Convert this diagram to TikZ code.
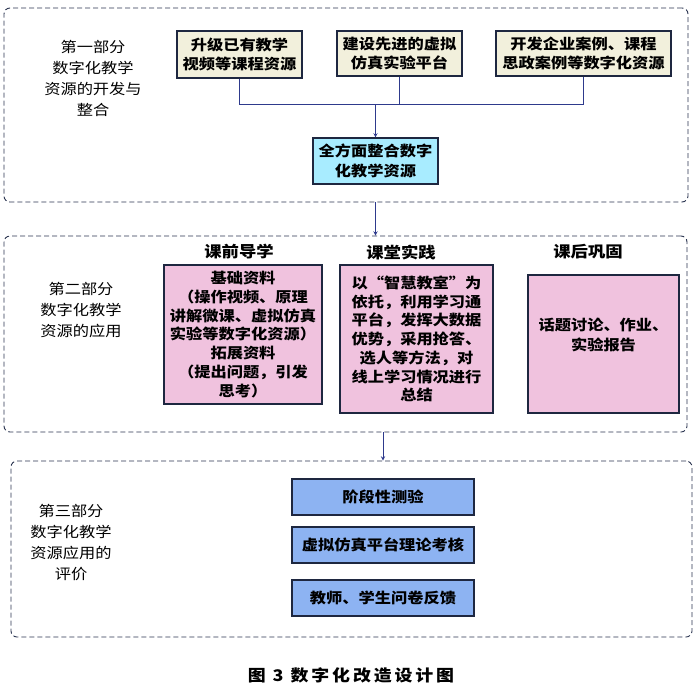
\documentclass[tikz,border=0pt]{standalone}
\usepackage{fontspec}
\setmainfont{Noto Sans CJK SC}[FakeStretch=1.12]
\usepackage{tikz}
\usepackage{xcolor}

\definecolor{partline}{HTML}{2A3450}
\definecolor{boxline}{HTML}{1E2740}
\definecolor{linkline}{HTML}{2E3A8C}
\definecolor{cream}{HTML}{F2F0DC}
\definecolor{skyfill}{HTML}{A8ECFF}
\definecolor{pinkfill}{HTML}{F0C2DE}
\definecolor{bluefill}{HTML}{8DB3F2}

\begin{document}
\begin{tikzpicture}[x=1pt, y=1pt,
          part/.style={draw=partline, line width=0.9pt, dash pattern=on 5pt off 3pt, rounded corners=6pt},
          box/.style={draw=boxline, line width=1.1pt, align=center, inner sep=0pt,
            font=\fontsize{14.5}{19.5}\selectfont\bfseries},
          heading/.style={align=center, font=\fontsize{15.5}{19}\selectfont\bfseries},
          sidetext/.style={align=center, font=\fontsize{14.5}{21}\selectfont},
          link/.style={draw=linkline, line width=0.9pt},
        ]
          \useasboundingbox (0,0) rectangle (696,-686);

          % dashed frames of the three parts
          \node[part, minimum width=684, minimum height=194] (part1) at (346,-105) {};
          \node[part, minimum width=683, minimum height=196] (part2) at (345.5,-334) {};
          \node[part, minimum width=681, minimum height=176] (part3) at (351.5,-549) {};

          % part one
          \node[sidetext] (side1) at (93,-78) {第一部分\\数字化教学\\资源的开发与\\整合};
          \node[box, fill=cream, minimum width=125, minimum height=47] (video) at (239.5,-54.5) {升级已有教学\\视频等课程资源};
          \node[box, fill=cream, minimum width=125, minimum height=45] (sim) at (399.5,-53.5) {建设先进的虚拟\\仿真实验平台};
          \node[box, fill=cream, minimum width=175, minimum height=45] (cases) at (583.5,-53.5) {开发企业案例、课程\\思政案例等数字化资源};
          \node[box, fill=skyfill, minimum width=125, minimum height=46] (merge) at (375.5,-161) {全方面整合数字\\化教学资源};
          \coordinate (join) at (375.5,-104);

          \draw[link] (video.south) |- (join);
          \draw[link] (cases.south) |- (join);
          \draw[link] (sim.south) -- (sim.south |- join);
          \draw[link, -stealth] (join) -- (merge.north);

          % part two
          \node[sidetext] (side2) at (81,-310) {第二部分\\数字化教学\\资源的应用};
          \node[heading] (pre) at (239,-252) {课前导学};
          \node[heading] (inclass) at (401,-252) {课堂实践};
          \node[heading] (post) at (588,-252) {课后巩固};
          \node[box, fill=pinkfill, minimum width=158, minimum height=139,
            font=\fontsize{14.5}{18.7}\selectfont\bfseries] (prebox) at (243,-334.5)
            {基础资料\\（操作视频、原理\\讲解微课、虚拟仿真\\实验等数字化资源）\\拓展资料\\（提出问题，引发\\思考）};
          \node[box, fill=pinkfill, minimum width=153, minimum height=148,
            font=\fontsize{14.5}{18.7}\selectfont\bfseries] (inbox) at (416.5,-339)
            {以“智慧教室”为\\依托，利用学习通\\平台，发挥大数据\\优势，采用抢答、\\选人等方法，对\\线上学习情况进行\\总结};
          \node[box, fill=pinkfill, minimum width=151, minimum height=138] (postbox) at (603.5,-344) {};
          \node[align=center, font=\fontsize{14.5}{19.5}\selectfont\bfseries] (posttext) at (postbox.center |- 0,-335) {话题讨论、作业、\\实验报告};

          % part three
          \node[sidetext] (side3) at (71,-542.5) {第三部分\\数字化教学\\资源应用的\\评价};
          \node[box, fill=bluefill, minimum width=182, minimum height=36] (quiz) at (383,-497) {阶段性测验};
          \node[box, fill=bluefill, minimum width=182, minimum height=36] (exam) at (383,-545) {虚拟仿真平台理论考核};
          \node[box, fill=bluefill, minimum width=182, minimum height=36] (survey) at (383,-598) {教师、学生问卷反馈};

          \draw[link, -stealth] (part1.south -| merge) -- (part2.north -| merge);
          \draw[link, -stealth] (part2.south -| quiz) -- (part3.north -| quiz);

          \node[font=\fontsize{16}{18}\selectfont\bfseries\addfontfeature{LetterSpace=18}] (caption) at (351,-675) {图 3 数字化改造设计图};
        \end{tikzpicture}
\end{document}
